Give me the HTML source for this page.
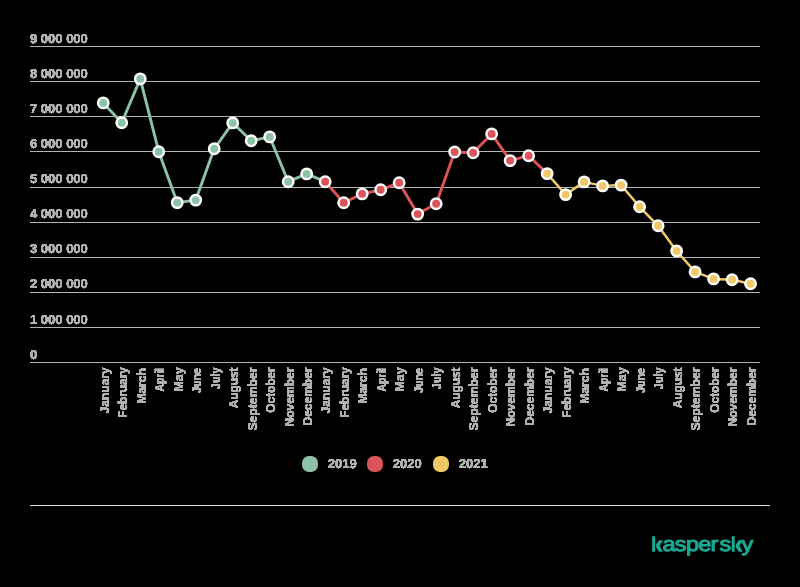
<!DOCTYPE html>
<html><head><meta charset="utf-8"><title>chart</title>
<style>
html,body{margin:0;padding:0;background:#000;}
body{width:800px;height:587px;overflow:hidden;}
svg{display:block;}
text{font-family:"Liberation Sans",sans-serif;font-size:13px;fill:#b0b0b0;stroke:#b0b0b0;stroke-width:0px;text-rendering:geometricPrecision;font-weight:bold;}
</style></head><body>
<svg width="800" height="587" viewBox="0 0 800 587">
<rect x="0" y="0" width="800" height="587" fill="#000"/>
<defs><filter id="g" x="0" y="0" width="800" height="587" filterUnits="userSpaceOnUse" color-interpolation-filters="sRGB"><feColorMatrix type="saturate" values="0" result="gs"/><feComponentTransfer in="gs" result="fat"><feFuncR type="linear" slope="0" intercept="0.75"/><feFuncG type="linear" slope="0" intercept="0.75"/><feFuncB type="linear" slope="0" intercept="0.75"/><feFuncA type="linear" slope="3" intercept="0"/></feComponentTransfer><feComponentTransfer in="gs" result="core"><feFuncA type="linear" slope="6" intercept="-0.5"/></feComponentTransfer><feMerge><feMergeNode in="fat"/><feMergeNode in="core"/></feMerge></filter></defs>
<g fill="#b4b4b4" shape-rendering="crispEdges">
<rect x="30" y="46" width="730" height="1"/>
<rect x="30" y="81" width="730" height="1"/>
<rect x="30" y="116" width="730" height="1"/>
<rect x="30" y="151" width="730" height="1"/>
<rect x="30" y="187" width="730" height="1"/>
<rect x="30" y="222" width="730" height="1"/>
<rect x="30" y="257" width="730" height="1"/>
<rect x="30" y="292" width="730" height="1"/>
<rect x="30" y="327" width="730" height="1"/>
<rect x="30" y="362" width="730" height="1"/>
</g>
<rect x="30" y="505" width="740" height="1" fill="#dcdcdc" shape-rendering="crispEdges"/>
<g filter="url(#g)">
<text x="30" y="42.50">9 000 000</text>
<text x="30" y="77.63">8 000 000</text>
<text x="30" y="112.76">7 000 000</text>
<text x="30" y="147.89">6 000 000</text>
<text x="30" y="183.02">5 000 000</text>
<text x="30" y="218.15">4 000 000</text>
<text x="30" y="253.28">3 000 000</text>
<text x="30" y="288.41">2 000 000</text>
<text x="30" y="323.54">1 000 000</text>
<text x="30" y="358.67">0</text>
</g>
<polyline points="103.25,102.90 121.75,122.80 140.24,78.85 158.74,151.70 177.23,202.60 195.73,200.10 214.22,148.80 232.72,122.90 251.21,140.80 269.71,136.90 288.20,181.70 306.70,173.90 325.19,181.70" fill="none" stroke="#8cc3a7" stroke-width="2.9" stroke-linejoin="round" stroke-linecap="round"/>
<polyline points="325.19,181.70 343.69,202.70 362.18,193.85 380.68,189.80 399.17,182.80 417.67,214.10 436.16,203.80 454.66,152.00 473.15,152.70 491.65,133.90 510.14,160.60 528.63,155.70 547.13,173.60" fill="none" stroke="#dc5459" stroke-width="2.9" stroke-linejoin="round" stroke-linecap="round"/>
<polyline points="547.13,173.60 565.62,194.60 584.12,181.90 602.62,185.90 621.11,185.10 639.61,206.80 658.10,225.80 676.60,250.90 695.09,271.90 713.59,278.90 732.08,279.70 750.58,283.70" fill="none" stroke="#f0c865" stroke-width="2.5" stroke-linejoin="round" stroke-linecap="round"/>
<circle cx="103.25" cy="102.90" r="5.2" fill="#8cc3a7" stroke="#fff" stroke-width="2.5"/>
<circle cx="121.75" cy="122.80" r="5.2" fill="#8cc3a7" stroke="#fff" stroke-width="2.5"/>
<circle cx="140.24" cy="78.85" r="5.2" fill="#8cc3a7" stroke="#fff" stroke-width="2.5"/>
<circle cx="158.74" cy="151.70" r="5.2" fill="#8cc3a7" stroke="#fff" stroke-width="2.5"/>
<circle cx="177.23" cy="202.60" r="5.2" fill="#8cc3a7" stroke="#fff" stroke-width="2.5"/>
<circle cx="195.73" cy="200.10" r="5.2" fill="#8cc3a7" stroke="#fff" stroke-width="2.5"/>
<circle cx="214.22" cy="148.80" r="5.2" fill="#8cc3a7" stroke="#fff" stroke-width="2.5"/>
<circle cx="232.72" cy="122.90" r="5.2" fill="#8cc3a7" stroke="#fff" stroke-width="2.5"/>
<circle cx="251.21" cy="140.80" r="5.2" fill="#8cc3a7" stroke="#fff" stroke-width="2.5"/>
<circle cx="269.71" cy="136.90" r="5.2" fill="#8cc3a7" stroke="#fff" stroke-width="2.5"/>
<circle cx="288.20" cy="181.70" r="5.2" fill="#8cc3a7" stroke="#fff" stroke-width="2.5"/>
<circle cx="306.70" cy="173.90" r="5.2" fill="#8cc3a7" stroke="#fff" stroke-width="2.5"/>
<circle cx="325.19" cy="181.70" r="5.2" fill="#dc5459" stroke="#fff" stroke-width="2.5"/>
<circle cx="343.69" cy="202.70" r="5.2" fill="#dc5459" stroke="#fff" stroke-width="2.5"/>
<circle cx="362.18" cy="193.85" r="5.2" fill="#dc5459" stroke="#fff" stroke-width="2.5"/>
<circle cx="380.68" cy="189.80" r="5.2" fill="#dc5459" stroke="#fff" stroke-width="2.5"/>
<circle cx="399.17" cy="182.80" r="5.2" fill="#dc5459" stroke="#fff" stroke-width="2.5"/>
<circle cx="417.67" cy="214.10" r="5.2" fill="#dc5459" stroke="#fff" stroke-width="2.5"/>
<circle cx="436.16" cy="203.80" r="5.2" fill="#dc5459" stroke="#fff" stroke-width="2.5"/>
<circle cx="454.66" cy="152.00" r="5.2" fill="#dc5459" stroke="#fff" stroke-width="2.5"/>
<circle cx="473.15" cy="152.70" r="5.2" fill="#dc5459" stroke="#fff" stroke-width="2.5"/>
<circle cx="491.65" cy="133.90" r="5.2" fill="#dc5459" stroke="#fff" stroke-width="2.5"/>
<circle cx="510.14" cy="160.60" r="5.2" fill="#dc5459" stroke="#fff" stroke-width="2.5"/>
<circle cx="528.63" cy="155.70" r="5.2" fill="#dc5459" stroke="#fff" stroke-width="2.5"/>
<circle cx="547.13" cy="173.60" r="5.2" fill="#f0c865" stroke="#fff" stroke-width="2.5"/>
<circle cx="565.62" cy="194.60" r="5.2" fill="#f0c865" stroke="#fff" stroke-width="2.5"/>
<circle cx="584.12" cy="181.90" r="5.2" fill="#f0c865" stroke="#fff" stroke-width="2.5"/>
<circle cx="602.62" cy="185.90" r="5.2" fill="#f0c865" stroke="#fff" stroke-width="2.5"/>
<circle cx="621.11" cy="185.10" r="5.2" fill="#f0c865" stroke="#fff" stroke-width="2.5"/>
<circle cx="639.61" cy="206.80" r="5.2" fill="#f0c865" stroke="#fff" stroke-width="2.5"/>
<circle cx="658.10" cy="225.80" r="5.2" fill="#f0c865" stroke="#fff" stroke-width="2.5"/>
<circle cx="676.60" cy="250.90" r="5.2" fill="#f0c865" stroke="#fff" stroke-width="2.5"/>
<circle cx="695.09" cy="271.90" r="5.2" fill="#f0c865" stroke="#fff" stroke-width="2.5"/>
<circle cx="713.59" cy="278.90" r="5.2" fill="#f0c865" stroke="#fff" stroke-width="2.5"/>
<circle cx="732.08" cy="279.70" r="5.2" fill="#f0c865" stroke="#fff" stroke-width="2.5"/>
<circle cx="750.58" cy="283.70" r="5.2" fill="#f0c865" stroke="#fff" stroke-width="2.5"/>
<g text-anchor="end" filter="url(#g)">
<text transform="translate(108.55,367.30) rotate(-90)" textLength="46.10" lengthAdjust="spacingAndGlyphs">January</text>
<text transform="translate(127.05,367.20) rotate(-90)" textLength="50.50" lengthAdjust="spacingAndGlyphs">February</text>
<text transform="translate(145.54,368.00) rotate(-90)" textLength="35.80" lengthAdjust="spacingAndGlyphs">March</text>
<text transform="translate(164.04,368.00) rotate(-90)" textLength="23.60" lengthAdjust="spacingAndGlyphs">April</text>
<text transform="translate(182.53,367.20) rotate(-90)" textLength="24.40" lengthAdjust="spacingAndGlyphs">May</text>
<text transform="translate(201.03,368.00) rotate(-90)" textLength="25.00" lengthAdjust="spacingAndGlyphs">June</text>
<text transform="translate(219.52,367.30) rotate(-90)" textLength="21.90" lengthAdjust="spacingAndGlyphs">July</text>
<text transform="translate(238.02,367.60) rotate(-90)" textLength="40.70" lengthAdjust="spacingAndGlyphs">August</text>
<text transform="translate(256.51,367.50) rotate(-90)" textLength="63.10" lengthAdjust="spacingAndGlyphs">September</text>
<text transform="translate(275.01,367.50) rotate(-90)" textLength="45.20" lengthAdjust="spacingAndGlyphs">October</text>
<text transform="translate(293.50,367.50) rotate(-90)" textLength="59.00" lengthAdjust="spacingAndGlyphs">November</text>
<text transform="translate(312.00,367.50) rotate(-90)" textLength="58.00" lengthAdjust="spacingAndGlyphs">December</text>
<text transform="translate(330.49,367.30) rotate(-90)" textLength="46.10" lengthAdjust="spacingAndGlyphs">January</text>
<text transform="translate(348.99,367.20) rotate(-90)" textLength="50.50" lengthAdjust="spacingAndGlyphs">February</text>
<text transform="translate(367.48,368.00) rotate(-90)" textLength="35.80" lengthAdjust="spacingAndGlyphs">March</text>
<text transform="translate(385.98,368.00) rotate(-90)" textLength="23.60" lengthAdjust="spacingAndGlyphs">April</text>
<text transform="translate(404.47,367.20) rotate(-90)" textLength="24.40" lengthAdjust="spacingAndGlyphs">May</text>
<text transform="translate(422.97,368.00) rotate(-90)" textLength="25.00" lengthAdjust="spacingAndGlyphs">June</text>
<text transform="translate(441.46,367.30) rotate(-90)" textLength="21.90" lengthAdjust="spacingAndGlyphs">July</text>
<text transform="translate(459.96,367.60) rotate(-90)" textLength="40.70" lengthAdjust="spacingAndGlyphs">August</text>
<text transform="translate(478.45,367.50) rotate(-90)" textLength="63.10" lengthAdjust="spacingAndGlyphs">September</text>
<text transform="translate(496.95,367.50) rotate(-90)" textLength="45.20" lengthAdjust="spacingAndGlyphs">October</text>
<text transform="translate(515.44,367.50) rotate(-90)" textLength="59.00" lengthAdjust="spacingAndGlyphs">November</text>
<text transform="translate(533.93,367.50) rotate(-90)" textLength="58.00" lengthAdjust="spacingAndGlyphs">December</text>
<text transform="translate(552.43,367.30) rotate(-90)" textLength="46.10" lengthAdjust="spacingAndGlyphs">January</text>
<text transform="translate(570.92,367.20) rotate(-90)" textLength="50.50" lengthAdjust="spacingAndGlyphs">February</text>
<text transform="translate(589.42,368.00) rotate(-90)" textLength="35.80" lengthAdjust="spacingAndGlyphs">March</text>
<text transform="translate(607.91,368.00) rotate(-90)" textLength="23.60" lengthAdjust="spacingAndGlyphs">April</text>
<text transform="translate(626.41,367.20) rotate(-90)" textLength="24.40" lengthAdjust="spacingAndGlyphs">May</text>
<text transform="translate(644.90,368.00) rotate(-90)" textLength="25.00" lengthAdjust="spacingAndGlyphs">June</text>
<text transform="translate(663.40,367.30) rotate(-90)" textLength="21.90" lengthAdjust="spacingAndGlyphs">July</text>
<text transform="translate(681.89,367.60) rotate(-90)" textLength="40.70" lengthAdjust="spacingAndGlyphs">August</text>
<text transform="translate(700.39,367.50) rotate(-90)" textLength="63.10" lengthAdjust="spacingAndGlyphs">September</text>
<text transform="translate(718.88,367.50) rotate(-90)" textLength="45.20" lengthAdjust="spacingAndGlyphs">October</text>
<text transform="translate(737.38,367.50) rotate(-90)" textLength="59.00" lengthAdjust="spacingAndGlyphs">November</text>
<text transform="translate(755.88,367.50) rotate(-90)" textLength="58.00" lengthAdjust="spacingAndGlyphs">December</text>
</g>
<rect x="302" y="456" width="16" height="16" rx="7" ry="7" fill="#8cc3a7"/>
<rect x="367" y="456" width="16" height="16" rx="7" ry="7" fill="#dc5459"/>
<rect x="433" y="456" width="16" height="16" rx="7" ry="7" fill="#f0c865"/>
<g filter="url(#g)">
<text x="327.8" y="468">2019</text>
<text x="392.8" y="468">2020</text>
<text x="458.8" y="468">2021</text>
</g>
<defs><filter id="id" x="600" y="500" width="200" height="87" filterUnits="userSpaceOnUse" color-interpolation-filters="sRGB"><feOffset dx="0" dy="0"/></filter></defs>
<g filter="url(#id)" fill="#17aa94">
<g transform="translate(0,551.2) scale(1.07,0.935)"><text style="font-weight:normal;font-size:22px;fill:#17aa94;stroke:#17aa94;stroke-width:1.05px" y="0" x="619.25 630.65 641.12 652.52 663.93 672.43 693.08">aspersy</text></g>
<rect x="652.1" y="536.2" width="3.1" height="15.55"/><rect x="731.7" y="536.2" width="3.0" height="15.55"/>
<path d="M656.10 544.60L659.00 540.20L663.00 540.20L659.70 545.95L663.00 551.75L659.00 551.75L656.10 547.30Z"/>
<path d="M735.80 544.60L738.70 540.20L742.70 540.20L739.40 545.95L742.70 551.75L738.70 551.75L735.80 547.30Z"/>
</g>
</svg>
</body></html>
